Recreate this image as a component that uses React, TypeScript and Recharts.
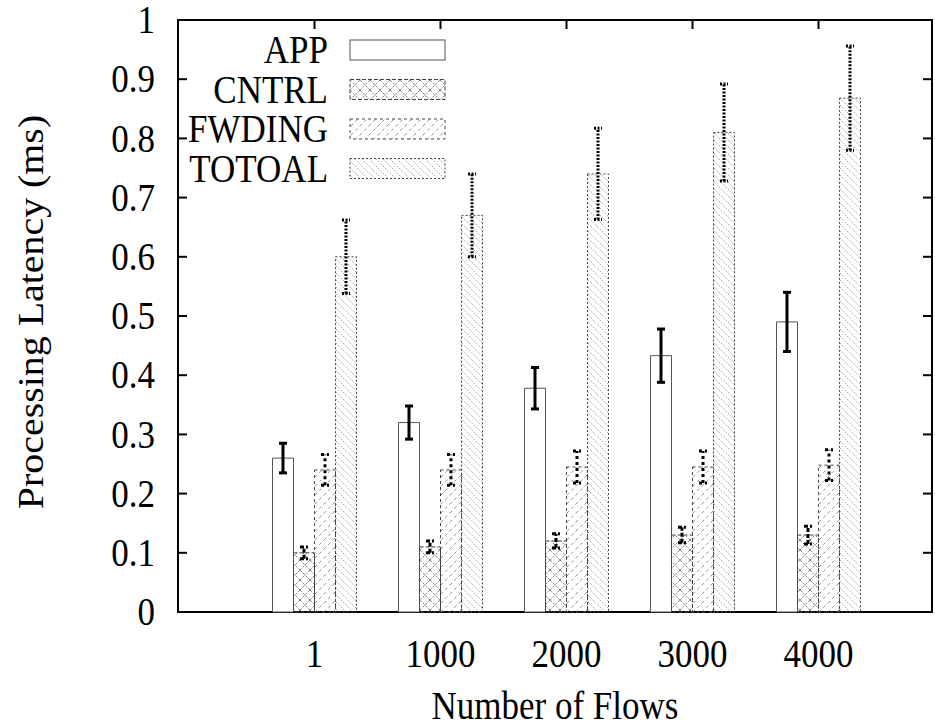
import { BarChart, Bar, XAxis, YAxis, ErrorBar, Legend, Customized } from 'recharts';

// values (ms)
const flows = ['1', '1000', '2000', '3000', '4000'];
const appLatency = [0.26, 0.32, 0.378, 0.433, 0.49];
const appError = [0.025, 0.028, 0.035, 0.045, 0.05];
const cntrlLatency = [0.1, 0.11, 0.12, 0.13, 0.13];
const cntrlError = [0.01, 0.01, 0.012, 0.013, 0.015];
const fwdingLatency = [0.24, 0.24, 0.245, 0.245, 0.248];
const fwdingError = [0.026, 0.026, 0.027, 0.027, 0.026];
const totalLatency = [0.6, 0.67, 0.74, 0.81, 0.868];
const totalError = [0.062, 0.07, 0.077, 0.082, 0.088];
const yTicks = [0, 0.1, 0.2, 0.3, 0.4, 0.5, 0.6, 0.7, 0.8, 0.9, 1];

const data = flows.map((f, i) => ({
	flows: f,
	app: appLatency[i],
	appErr: appError[i],
	cntrl: cntrlLatency[i],
	cntrlErr: cntrlError[i],
	fwding: fwdingLatency[i],
	fwdingErr: fwdingError[i],
	total: totalLatency[i],
	totalErr: totalError[i],
}));

const FONT = "'Liberation Serif', 'Times New Roman', Times, 'DejaVu Serif', serif";
const FONT_SIZE = 35;
const STRETCH = 1.14; // the figure's text is taller than it is wide
const textStyle = { fontFamily: FONT, fontSize: FONT_SIZE, fill: '#000' };

const PLOT_LEFT = 178;
const PLOT_TOP = 20;
const PLOT_RIGHT = 932;
const PLOT_BOTTOM = 612;

const series = [
	{ key: 'app', err: 'appErr', name: 'APP', fill: '#fff', stroke: '#555', dash: undefined, errDash: undefined },
	{ key: 'cntrl', err: 'cntrlErr', name: 'CNTRL', fill: 'url(#hatchCross)', stroke: '#444', dash: '4 2', errDash: '4 2' },
	{ key: 'fwding', err: 'fwdingErr', name: 'FWDING', fill: 'url(#hatchFwd)', stroke: '#444', dash: '3 3', errDash: '3 3' },
	{ key: 'total', err: 'totalErr', name: 'TOTOAL', fill: 'url(#hatchBack)', stroke: '#444', dash: '2 2', errDash: '2 1.5' },
];

function YTick({ y, payload }: any) {
	const v = payload.value;
	const label = v === 0 ? '0' : v === 1 ? '1' : v.toFixed(1);
	return (
		<g>
			<line x1={PLOT_LEFT} x2={PLOT_LEFT + 9} y1={y} y2={y} stroke="#000" strokeWidth={2} />
			<line x1={PLOT_RIGHT - 9} x2={PLOT_RIGHT} y1={y} y2={y} stroke="#000" strokeWidth={2} />
			<text
				transform={`translate(155, ${y}) scale(1, ${STRETCH})`}
				y={11.5}
				textAnchor="end"
				style={textStyle}
			>
				{label}
			</text>
		</g>
	);
}

function XTick({ x, payload }: any) {
	return (
		<g>
			<line x1={x} x2={x} y1={PLOT_TOP} y2={PLOT_TOP + 9} stroke="#000" strokeWidth={2} />
			<text
				transform={`translate(${x}, 667) scale(1, ${STRETCH})`}
				textAnchor="middle"
				style={textStyle}
			>
				{payload.value}
			</text>
		</g>
	);
}

function Frame() {
	return (
		<g>
			<text
				transform={`translate(${(PLOT_LEFT + PLOT_RIGHT) / 2}, 719) scale(1, ${STRETCH})`}
				textAnchor="middle"
				style={textStyle}
			>
				Number of Flows
			</text>
			<text
				transform={`translate(43, 312) rotate(-90) scale(${STRETCH}, 1)`}
				textAnchor="middle"
				style={textStyle}
			>
				Processing Latency (ms)
			</text>
			<rect
				x={PLOT_LEFT}
				y={PLOT_TOP}
				width={PLOT_RIGHT - PLOT_LEFT}
				height={PLOT_BOTTOM - PLOT_TOP}
				fill="none"
				stroke="#000"
				strokeWidth={2}
			/>
		</g>
	);
}

function KeyBox() {
	return (
		<svg width={460} height={200} style={{ display: 'block' }}>
			{series.map((s, i) => {
				const top = 40 + i * 39.5;
				return (
					<g key={s.key}>
						<text
							transform={`translate(328, ${top + 23}) scale(1, ${STRETCH})`}
							textAnchor="end"
							style={textStyle}
						>
							{s.name}
						</text>
						<rect
							x={350}
							y={top}
							width={95}
							height={20}
							fill={s.fill}
							stroke={s.stroke}
							strokeDasharray={s.dash}
						/>
					</g>
				);
			})}
		</svg>
	);
}

export default function App() {
	return (
		<div style={{ position: 'absolute', left: 0, top: 0, background: '#fff', fontFamily: FONT }}>
			<BarChart
				width={935}
				height={728}
				data={data}
				margin={{ top: PLOT_TOP, right: 935 - PLOT_RIGHT, bottom: 0, left: 0 }}
				barGap={0}
				barSize={21}
			>
				<defs>
					<pattern id="hatchCross" patternUnits="userSpaceOnUse" width={10} height={10}>
						<path d="M0,0 L10,10 M10,0 L0,10" stroke="#666" strokeWidth={0.8} strokeDasharray="2.5 1.5" />
					</pattern>
					<pattern id="hatchFwd" patternUnits="userSpaceOnUse" width={9} height={9}>
						<path d="M0,9 L9,0 M-2,2 L2,-2 M7,11 L11,7" stroke="#777" strokeWidth={0.8} strokeDasharray="3 3" />
					</pattern>
					<pattern id="hatchBack" patternUnits="userSpaceOnUse" width={7} height={7}>
						<path d="M0,0 L7,7 M-2,5 L2,9 M5,-2 L9,2" stroke="#888" strokeWidth={0.8} strokeDasharray="1.2 1.2" />
					</pattern>
				</defs>
				<XAxis
					dataKey="flows"
					height={728 - PLOT_BOTTOM}
					padding={{ left: 73.5, right: 50.5 }}
					axisLine={false}
					tickLine={false}
					tick={<XTick />}
					interval={0}
				/>
				<YAxis
					width={PLOT_LEFT}
					domain={[0, 1]}
					ticks={yTicks}
					axisLine={false}
					tickLine={false}
					tick={<YTick />}
				/>
				<Legend
					layout="vertical"
					align="center"
					verticalAlign="middle"
					content={() => <KeyBox />}
					wrapperStyle={{ position: 'absolute', left: 0, top: 0, width: 460, height: 200 }}
				/>
				{series.map((s) => (
					<Bar
						key={s.key}
						dataKey={s.key}
						name={s.name}
						fill={s.fill}
						stroke={s.stroke}
						strokeWidth={1}
						strokeDasharray={s.dash}
						isAnimationActive={false}
					>
						<ErrorBar dataKey={s.err} width={4} stroke="#000" strokeWidth={3} strokeDasharray={s.errDash} />
					</Bar>
				))}
				<Customized component={Frame} />
			</BarChart>
		</div>
	);
}
